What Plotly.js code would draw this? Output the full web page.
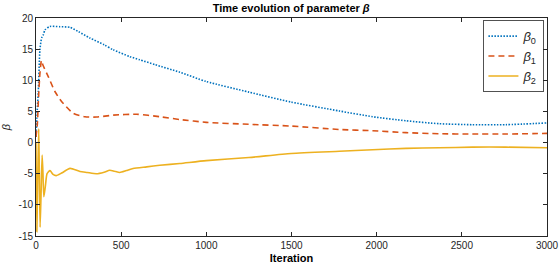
<!DOCTYPE html>
<html><head><meta charset="utf-8">
<script src="https://cdn.plot.ly/plotly-3.0.1.min.js"></script>
<style>html,body{margin:0;padding:0;background:#fff}#c{width:560px;height:268px}</style>
</head><body><div id="c"></div>
<script>
const iterB0 = [0,6,13.5,23,33,43,53,82,140,199,250,316,400,453,551,609,700,844,1000,1250,1498,1781,1976,2172,2367,2562,2758,3000];
const beta0  = [0.9,4.5,8.2,14.9,16.8,17.3,18.1,18.65,18.6,18.5,17.8,16.8,15.7,14.9,13.8,13.3,12.5,11.3,9.8,8.1,6.5,5.07,4.15,3.5,3.03,2.87,2.87,3.15];
const iterB1 = [0,8,14,23,32,40,72,111,150,219,287,355,453,590,727,844,1000,1250,1498,1781,1976,2172,2367,2562,2758,3000];
const beta1  = [0.9,3,6.8,11.1,13.2,12.5,10.6,8.2,6.6,4.7,4.15,4.1,4.4,4.55,4.15,3.7,3.25,2.93,2.65,2.1,1.9,1.6,1.42,1.37,1.37,1.48];
const iterB2 = [0,5,10,16,20,24,30,36,41,46,55,65,82,100,118,150,200,258,300,355,400,433,460,492,530,570,650,727,844,1000,1250,1498,1781,1976,2172,2367,2562,2758,3000];
const beta2  = [0,-14.3,-6,2.2,-6,-13.6,-8,-2,-5,-8.7,-7,-5,-4.5,-5.1,-5.3,-4.9,-4.15,-4.65,-4.8,-5.0,-4.75,-4.45,-4.6,-4.8,-4.5,-4.15,-3.9,-3.65,-3.35,-2.9,-2.4,-1.75,-1.4,-1.16,-0.93,-0.84,-0.73,-0.73,-0.84];
const names = ['<i>β</i><sub>0</sub>','<i>β</i><sub>1</sub>','<i>β</i><sub>2</sub>'];
const xTicks = [0,500,1000,1500,2000,2500,3000];
const yTicks = [-15,-10,-5,0,5,10,15,20];

const axc = '#262626';
const traces = [
  {x:iterB0,y:beta0,name:names[0],mode:'lines',line:{color:'#0072BD',width:1.6,dash:'1.5px,1.5px',shape:'spline',smoothing:0.6}},
  {x:iterB1,y:beta1,name:names[1],mode:'lines',line:{color:'#D95319',width:1.6,dash:'6px,4px',shape:'spline',smoothing:0.6}},
  {x:iterB2,y:beta2,name:names[2],mode:'lines',line:{color:'#EDB120',width:1.6,shape:'spline',smoothing:0.6}}
];
const layout = {
  width:560,height:268,
  margin:{l:36,r:13,t:18,b:32,pad:0},
  paper_bgcolor:'#fff',plot_bgcolor:'#fff',
  font:{family:'Liberation Sans, Arial, sans-serif',size:10,color:axc},
  title:{text:'<b>Time evolution of parameter <i>β</i></b>',x:0.52,xanchor:'center',y:0.985,yanchor:'top',font:{size:11,color:'#000'}},
  xaxis:{range:[0,3000],tickvals:xTicks,ticktext:xTicks.map(String),ticks:'inside',ticklen:4,tickcolor:axc,
    showline:true,linecolor:axc,linewidth:1,mirror:'ticks',showgrid:false,zeroline:false,
    title:{text:'<b>Iteration</b>',standoff:4,font:{size:11,color:'#000'}}},
  yaxis:{range:[-15,20],tickvals:yTicks,ticktext:yTicks.map(String),ticks:'inside',ticklen:4,tickcolor:axc,
    showline:true,linecolor:axc,linewidth:1,mirror:'ticks',showgrid:false,zeroline:false,
    title:{text:'<i>β</i>',standoff:8,font:{size:11,color:axc}}},
  legend:{x:0.9934,xanchor:'right',y:0.989,yanchor:'top',bgcolor:'#fff',bordercolor:axc,borderwidth:0.8,
    font:{size:13,color:axc},itemwidth:30,tracegroupgap:0},
  showlegend:true
};
Plotly.newPlot('c',traces,layout,{staticPlot:true});
</script></body></html>
